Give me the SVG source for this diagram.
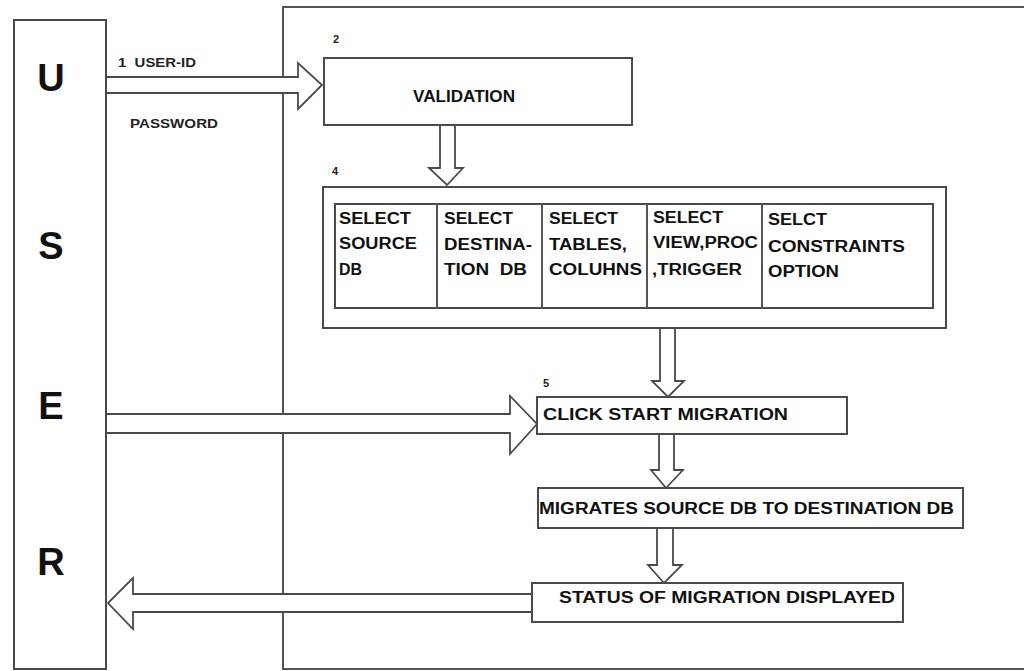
<svg xmlns="http://www.w3.org/2000/svg" width="1024" height="671" viewBox="0 0 1024 671">
<style>
  .box { fill: #ffffff; stroke: #4a4a4a; stroke-width: 2; }
  .line { fill: none; stroke: #555555; stroke-width: 2; }
  .arrow { fill: #ffffff; stroke: #4a4a4a; stroke-width: 1.8; stroke-linejoin: miter; }
  .big { font-family: "Liberation Sans", Arial, sans-serif; font-weight: bold; font-size: 38px; fill: #111; }
  .lbl { font-family: "Liberation Sans", Arial, sans-serif; font-weight: bold; font-size: 12px; fill: #222; white-space: pre; }
  .num { font-family: "Liberation Sans", Arial, sans-serif; font-weight: bold; font-size: 11px; fill: #222; }
  .cell { font-family: "Liberation Sans", Arial, sans-serif; font-weight: bold; font-size: 16px; fill: #111; white-space: pre; }
  .txt { font-family: "Liberation Sans", Arial, sans-serif; font-weight: bold; font-size: 16px; fill: #111; }
</style>
<rect x="0" y="0" width="1024" height="671" fill="#ffffff"/>

<g id="system-boundary">
  <path class="line" d="M283,670 L283,7 L1024,7"/>
  <path class="line" d="M283,669 L1024,669"/>
</g>

<g id="connectors">
  <polygon class="arrow" points="106,77 298,77 298,63 322,85 298,109 298,93 106,93"/>
  <polygon class="arrow" points="440,124 455,124 455,168 463,168 447,185 429,168 440,168"/>
  <polygon class="arrow" points="660,328 675,328 675,381 684,381 668,397 652,381 660,381"/>
  <polygon class="arrow" points="106,414 510,414 510,396 537,424 510,454 510,433 106,433"/>
  <polygon class="arrow" points="659,434 674,434 674,470 683,470 666,488 651,470 659,470"/>
  <polygon class="arrow" points="657,528 673,528 673,565 682,565 664,583 648,565 657,565"/>
  <polygon class="arrow" points="533,594 133,594 133,578 108,603 133,629 133,612 533,612"/>
</g>

<g id="labels">
  <text class="lbl" x="118" y="67" textLength="78" lengthAdjust="spacingAndGlyphs">1  USER-ID</text>
  <text class="lbl" x="130" y="128" textLength="88" lengthAdjust="spacingAndGlyphs">PASSWORD</text>
  <text class="num" x="333" y="43">2</text>
  <text class="num" x="332" y="175">4</text>
  <text class="num" x="543" y="387">5</text>
</g>

<g id="user">
  <rect class="box" x="14" y="20" width="92" height="649"/>
  <text class="big" x="51" y="91" text-anchor="middle">U</text>
  <text class="big" x="51" y="259" text-anchor="middle">S</text>
  <text class="big" x="51" y="419" text-anchor="middle">E</text>
  <text class="big" x="51" y="575" text-anchor="middle">R</text>
</g>

<g id="validation">
  <rect class="box" x="324" y="58" width="308" height="67"/>
  <text class="txt" x="413" y="102" font-size="15" textLength="102" lengthAdjust="spacingAndGlyphs">VALIDATION</text>
</g>

<g id="selection">
  <rect class="box" x="323" y="187" width="623" height="141"/>
  <rect class="box" x="335" y="204" width="598" height="104"/>
  <path class="line" d="M437,204 V308 M542,204 V308 M647,204 V308 M762,204 V308"/>
  <text class="cell" x="339" y="224" textLength="72" lengthAdjust="spacingAndGlyphs">SELECT</text>
  <text class="cell" x="339" y="249" textLength="78" lengthAdjust="spacingAndGlyphs">SOURCE</text>
  <text class="cell" x="339" y="275" textLength="23" lengthAdjust="spacingAndGlyphs">DB</text>
  <text class="cell" x="444" y="224" textLength="69" lengthAdjust="spacingAndGlyphs">SELECT</text>
  <text class="cell" x="444" y="250" textLength="88" lengthAdjust="spacingAndGlyphs">DESTINA-</text>
  <text class="cell" x="444" y="275" textLength="83" lengthAdjust="spacingAndGlyphs">TION  DB</text>
  <text class="cell" x="549" y="224" textLength="69" lengthAdjust="spacingAndGlyphs">SELECT</text>
  <text class="cell" x="549" y="250" textLength="78" lengthAdjust="spacingAndGlyphs">TABLES,</text>
  <text class="cell" x="549" y="275" textLength="93" lengthAdjust="spacingAndGlyphs">COLUHNS</text>
  <text class="cell" x="653" y="223" textLength="70" lengthAdjust="spacingAndGlyphs">SELECT</text>
  <text class="cell" x="653" y="248" textLength="105" lengthAdjust="spacingAndGlyphs">VIEW,PROC</text>
  <text class="cell" x="652" y="275" textLength="90" lengthAdjust="spacingAndGlyphs">,TRIGGER</text>
  <text class="cell" x="768" y="225" textLength="59" lengthAdjust="spacingAndGlyphs">SELCT</text>
  <text class="cell" x="768" y="252" textLength="137" lengthAdjust="spacingAndGlyphs">CONSTRAINTS</text>
  <text class="cell" x="768" y="277" textLength="71" lengthAdjust="spacingAndGlyphs">OPTION</text>
</g>

<g id="click-start">
  <rect class="box" x="537" y="397" width="310" height="37"/>
  <text class="txt" x="543" y="420" textLength="245" lengthAdjust="spacingAndGlyphs">CLICK START MIGRATION</text>
</g>

<g id="migrates">
  <rect class="box" x="538" y="488" width="425" height="40"/>
  <text class="txt" x="539" y="514" textLength="415" lengthAdjust="spacingAndGlyphs">MIGRATES SOURCE DB TO DESTINATION DB</text>
</g>

<g id="status">
  <rect class="box" x="532" y="583" width="371" height="39"/>
  <text class="txt" x="559" y="603" textLength="336" lengthAdjust="spacingAndGlyphs">STATUS OF MIGRATION DISPLAYED</text>
</g>
</svg>
